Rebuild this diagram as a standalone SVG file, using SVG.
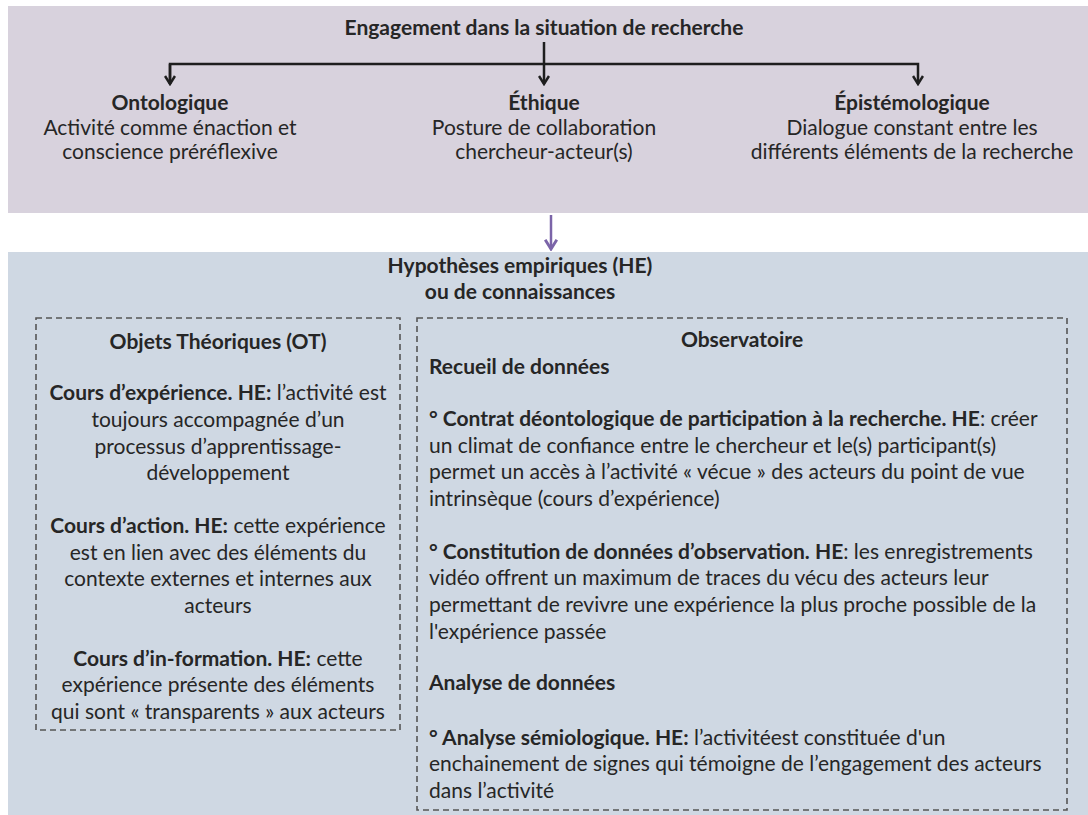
<svg xmlns="http://www.w3.org/2000/svg" width="1088" height="815" viewBox="0 0 1088 815">
<defs>
<style>
text{font-family:Lato,"Liberation Sans",sans-serif;font-size:21px;fill:#262626}
.b{font-weight:bold}
.c{text-anchor:middle}
.dash{fill:none;stroke:#555;stroke-width:1.6;stroke-dasharray:6 4}
.arr{fill:none;stroke:#1e1e1e;stroke-width:2.5}
</style>
<marker id="hk" viewBox="0 0 12 12" refX="10" refY="6" markerWidth="12" markerHeight="12" markerUnits="userSpaceOnUse" orient="auto">
<path d="M2,1 L10,6 L2,11" fill="none" stroke="#1e1e1e" stroke-width="2.5"/>
</marker>
<marker id="hp" viewBox="0 0 12 12" refX="10" refY="6" markerWidth="14" markerHeight="14" markerUnits="userSpaceOnUse" orient="auto">
<path d="M2,1 L10,6 L2,11" fill="none" stroke="#7b64a8" stroke-width="2.5"/>
</marker>
</defs>
<rect width="1088" height="815" fill="#ffffff"/>
<g id="top-panel">
<rect x="8" y="6" width="1080" height="207" fill="#d8d2dd"/>
<text class="b c" x="544" y="35">Engagement dans la situation de recherche</text>
</g>
<g id="ontologique">
<text class="b c" x="170" y="110">Ontologique</text>
<text class="c" x="170" y="135">Activité comme énaction et</text>
<text class="c" x="170" y="159">conscience préréflexive</text>
</g>
<g id="ethique">
<text class="b c" x="544" y="110">Éthique</text>
<text class="c" x="544" y="135">Posture de collaboration</text>
<text class="c" x="544" y="159">chercheur-acteur(s)</text>
</g>
<g id="epistemologique">
<text class="b c" x="912" y="110">Épistémologique</text>
<text class="c" x="912" y="135">Dialogue constant entre les</text>
<text class="c" x="912" y="159">différents éléments de la recherche</text>
</g>
<g id="bottom-panel">
<rect x="8" y="252" width="1080" height="563" fill="#cfd8e3"/>
<text class="b c" x="520" y="273">Hypothèses empiriques (HE)</text>
<text class="b c" x="520" y="299">ou de connaissances</text>
</g>
<g id="objets-theoriques">
<rect class="dash" x="36" y="318" width="364" height="412"/>
<text class="b c" x="218" y="349">Objets Théoriques (OT)</text>
<text class="c" x="218" y="400"><tspan class="b">Cours d’expérience. HE:</tspan> l’activité est</text>
<text class="c" x="218" y="427">toujours accompagnée d’un</text>
<text class="c" x="218" y="454">processus d’apprentissage-</text>
<text class="c" x="218" y="480">développement</text>
<text class="c" x="218" y="533"><tspan class="b">Cours d’action. HE:</tspan> cette expérience</text>
<text class="c" x="218" y="560">est en lien avec des éléments du</text>
<text class="c" x="218" y="586">contexte externes et internes aux</text>
<text class="c" x="218" y="613">acteurs</text>
<text class="c" x="218" y="666"><tspan class="b">Cours d’in-formation. HE:</tspan> cette</text>
<text class="c" x="218" y="692">expérience présente des éléments</text>
<text class="c" x="218" y="719">qui sont « transparents » aux acteurs</text>
</g>
<g id="observatoire">
<rect class="dash" x="417" y="318" width="650" height="492"/>
<text class="b c" x="742" y="347">Observatoire</text>
<text class="b" x="429" y="374">Recueil de données</text>
<text x="429" y="426"><tspan class="b">° Contrat déontologique de participation à la recherche. HE</tspan>: créer</text>
<text x="429" y="453">un climat de confiance entre le chercheur et le(s) participant(s)</text>
<text x="429" y="479">permet un accès à l’activité « vécue » des acteurs du point de vue</text>
<text x="429" y="506">intrinsèque (cours d’expérience)</text>
<text x="429" y="559"><tspan class="b">° Constitution de données d’observation. HE</tspan>: les enregistrements</text>
<text x="429" y="585">vidéo offrent un maximum de traces du vécu des acteurs leur</text>
<text x="429" y="612">permettant de revivre une expérience la plus proche possible de la</text>
<text x="429" y="639">l'expérience passée</text>
<text class="b" x="429" y="690">Analyse de données</text>
<text x="429" y="745"><tspan class="b">° Analyse sémiologique. HE:</tspan> l’activitéest constituée d'un</text>
<text x="429" y="771">enchainement de signes qui témoigne de l’engagement des acteurs</text>
<text x="429" y="798">dans l’activité</text>
</g>
<g id="connectors">
<path class="arr" d="M544,42 V84" marker-end="url(#hk)"/>
<path class="arr" d="M170,84 V64 H918 V84" marker-end="url(#hk)"/>
<path class="arr" d="M170,64 V84" marker-end="url(#hk)"/>
<path d="M551,215 V249" fill="none" stroke="#7b64a8" stroke-width="2.5" marker-end="url(#hp)"/>
</g>
</svg>
